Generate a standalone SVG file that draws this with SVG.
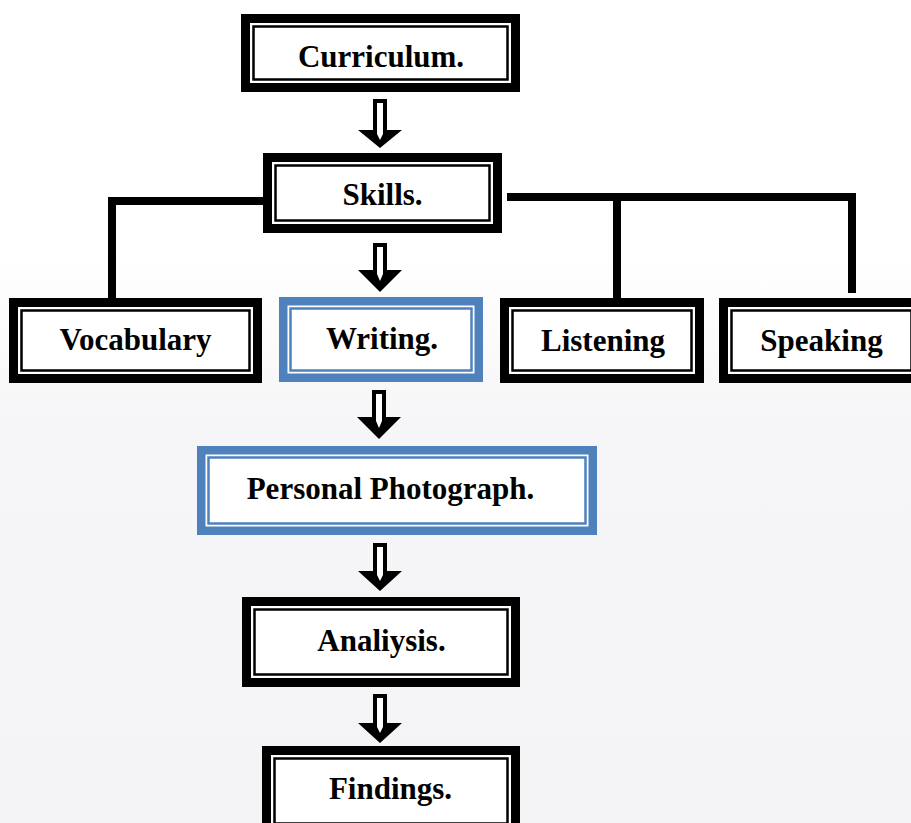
<svg xmlns="http://www.w3.org/2000/svg" width="911" height="823" viewBox="0 0 911 823">
  <style>
    .o{fill:#ffffff;stroke:#000;stroke-width:9}
    .i{fill:none;stroke:#000;stroke-width:2.5}
    .ob{fill:#ffffff;stroke:#4F81BD;stroke-width:8.5}
    .ib{fill:none;stroke:#4F81BD;stroke-width:2.5}
    .t{font-family:"Liberation Serif","Times New Roman",serif;font-weight:bold;font-size:31px;fill:#000;text-anchor:middle}
    .c{fill:none;stroke:#000;stroke-width:8;stroke-linejoin:miter}
    .a{fill:#000}
    .h{fill:#fff}
  </style>
  <defs>
    <linearGradient id="bg" x1="0" y1="0" x2="0" y2="1">
      <stop offset="0" stop-color="#ffffff"/>
      <stop offset="0.3" stop-color="#f6f6f8"/>
      <stop offset="1" stop-color="#f4f4f7"/>
    </linearGradient>
  </defs>
  <rect width="911" height="823" fill="#ffffff"/>
  <rect x="0" y="255" width="911" height="568" fill="url(#bg)"/>
  <g id="connectors">
    <polyline class="c" points="263,201 112,201 112,298"/>
    <polyline class="c" points="507,197 852,197 852,293"/>
    <line class="c" x1="617" y1="197" x2="617" y2="298"/>
    <path class="a" d="M373,99 H387 V130 H402 L380,148 L358,130 H373 Z"/>
    <path class="h" d="M377,103 H383 V134 L380,140 L377,134 Z"/>
    <path class="a" d="M373,243 H387 V270 H402 L380,292 L358,270 H373 Z"/>
    <path class="h" d="M377,247 H383 V274 L380,281 L377,274 Z"/>
    <path class="a" d="M372,390 H386 V417 H401 L379,439 L357,417 H372 Z"/>
    <path class="h" d="M376,394 H382 V421 L379,428 L376,421 Z"/>
    <path class="a" d="M373,543 H387 V571 H402 L380,591 L358,571 H373 Z"/>
    <path class="h" d="M377,547 H383 V575 L380,581 L377,575 Z"/>
    <path class="a" d="M373,694 H387 V723 H402 L380,743 L358,723 H373 Z"/>
    <path class="h" d="M377,698 H383 V727 L380,733 L377,727 Z"/>
  </g>
  <g id="curriculum">
    <rect class="o" x="245.5" y="18.5" width="270" height="69"/>
    <rect class="i" x="253.5" y="26.5" width="254" height="53"/>
    <text class="t" x="381" y="67">Curriculum.</text>
  </g>
  <g id="skills">
    <rect class="o" x="267.5" y="157.5" width="230" height="71"/>
    <rect class="i" x="275.5" y="165.5" width="214" height="55"/>
    <text class="t" x="382.5" y="205">Skills.</text>
  </g>
  <g id="vocabulary">
    <rect class="o" x="13.5" y="302.5" width="244" height="76"/>
    <rect class="i" x="21.5" y="310.5" width="228" height="60"/>
    <text class="t" x="135.5" y="350">Vocabulary</text>
  </g>
  <g id="writing">
    <rect class="ob" x="283.25" y="301.25" width="195.5" height="76.5"/>
    <rect class="ib" x="290.5" y="308.5" width="181" height="62"/>
    <text class="t" x="382" y="349">Writing.</text>
  </g>
  <g id="listening">
    <rect class="o" x="504.5" y="302.5" width="195" height="76"/>
    <rect class="i" x="512.5" y="310.5" width="179" height="60"/>
    <text class="t" x="603" y="351">Listening</text>
  </g>
  <g id="speaking">
    <rect class="o" x="723.5" y="302.5" width="196" height="76"/>
    <rect class="i" x="731.5" y="310.5" width="180" height="60"/>
    <text class="t" x="821.5" y="351">Speaking</text>
  </g>
  <g id="personal-photograph">
    <rect class="ob" x="201.25" y="450.25" width="391.5" height="80.5"/>
    <rect class="ib" x="208.5" y="457.5" width="377" height="66"/>
    <text class="t" x="390.5" y="499">Personal Photograph.</text>
  </g>
  <g id="analysis">
    <rect class="o" x="246.5" y="601.5" width="269" height="81"/>
    <rect class="i" x="254.5" y="609.5" width="253" height="65"/>
    <text class="t" x="381.5" y="651">Analiysis.</text>
  </g>
  <g id="findings">
    <rect class="o" x="266.5" y="750.5" width="249" height="81"/>
    <rect class="i" x="274.5" y="758.5" width="233" height="65"/>
    <text class="t" x="390.5" y="799">Findings.</text>
  </g>
</svg>
